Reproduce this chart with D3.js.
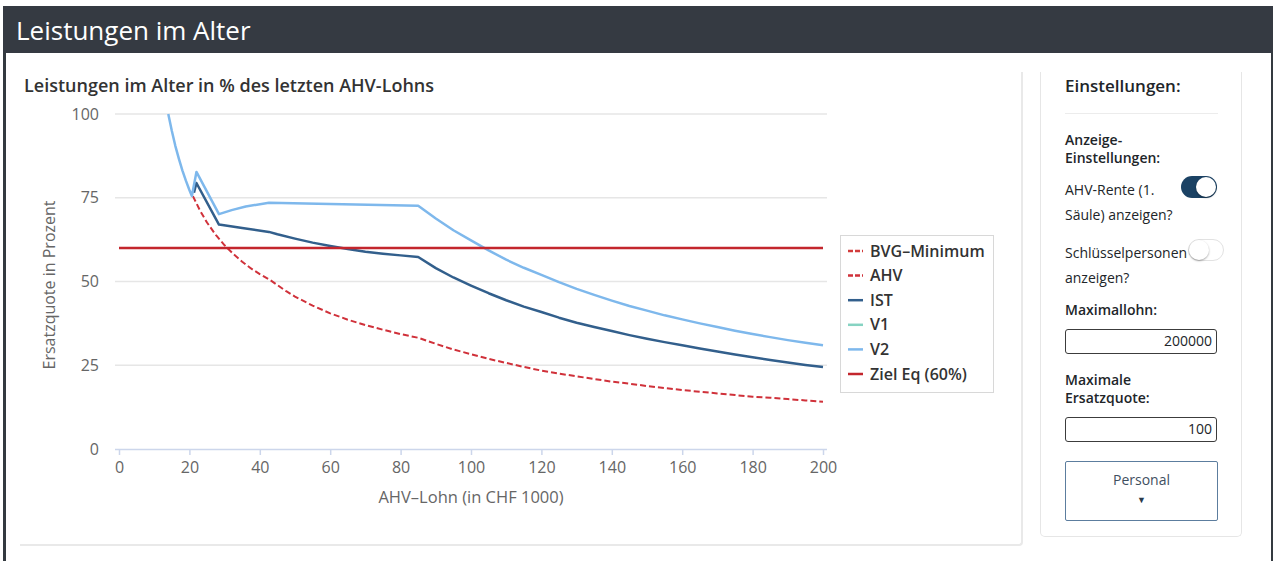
<!DOCTYPE html>
<html>
<head>
<meta charset="utf-8">
<script src="https://cdn.jsdelivr.net/npm/d3@7"></script>
<style>
  body { margin: 0; width: 1276px; height: 561px; overflow: hidden; background: #fff; font-family: "Open Sans", sans-serif; color: #212529; position: relative; }
  .frame-l { position: absolute; left: 3px; top: 6px; width: 3px; height: 555px; background: #343a40; }
  .frame-r { position: absolute; left: 1271px; top: 6px; width: 2px; height: 555px; background: #343a40; }
  .header { position: absolute; left: 3px; top: 6px; width: 1270px; height: 47px; background: #353a42; color: #fff; font-size: 26px; line-height: 49px; padding-left: 13px; box-sizing: border-box; }
  .card { position: absolute; left: 20px; top: 72px; width: 1001px; height: 472px; border-right: 2px solid #e9e9e9; border-bottom: 2px solid #e9e9e9; border-radius: 0 0 4px 0; }
  .settings { position: absolute; left: 1040px; top: 72px; width: 200px; height: 464px; border: 1px solid #e6e6e6; border-top: none; border-radius: 0 0 5px 5px; }
  .s { position: absolute; font-size: 14px; line-height: 19px; }
  .b { font-weight: 600; }
  .box { position: absolute; left: 1065px; width: 152px; height: 25px; border: 1.5px solid #3c3c3c; border-radius: 3px; box-sizing: border-box; text-align: right; font-size: 14px; line-height: 22px; padding-right: 4px; }
  .btn { position: absolute; left: 1065px; top: 461px; width: 153px; height: 60px; border: 1.5px solid #5c7d9e; border-radius: 2px; box-sizing: border-box; text-align: center; font-size: 14px; color: #3f4f5f; }
  .tog { position: absolute; width: 36px; height: 22px; border-radius: 11px; box-sizing: border-box; }
  .knob { position: absolute; top: 1px; width: 20px; height: 20px; border-radius: 10px; background: #fff; box-shadow: 0 1px 2px rgba(0,0,0,0.35); }
</style>
</head>
<body>
<div class="frame-l"></div>
<div class="frame-r"></div>
<div class="header">Leistungen im Alter</div>
<div class="card"></div>
<div class="settings"></div>
<div id="chart" style="position:absolute;left:0;top:0;"></div>

<div class="s b" style="left:1065px;top:75px;font-size:17px;line-height:22px;">Einstellungen:</div>
<div style="position:absolute;left:1065px;top:113px;width:153px;height:1px;background:#ececec;"></div>
<div class="s b" style="left:1065px;top:131px;line-height:18px;">Anzeige-<br>Einstellungen:</div>
<div class="s" style="left:1065px;top:177px;line-height:25px;">AHV-Rente (1.<br>Säule) anzeigen?</div>
<div class="tog" style="left:1181px;top:176px;background:#1b4264;"><div class="knob" style="left:15px;"></div></div>
<div class="s" style="left:1065px;top:240px;line-height:25px;">Schlüsselpersonen<br>anzeigen?</div>
<div class="tog" style="left:1188px;top:239px;background:#fff;border:1px solid #e2e2e2;"><div class="knob" style="left:0px;top:0px;"></div></div>
<div class="s b" style="left:1065px;top:300px;">Maximallohn:</div>
<div class="box" style="top:329px;">200000</div>
<div class="s b" style="left:1065px;top:371px;line-height:18px;">Maximale<br>Ersatzquote:</div>
<div class="box" style="top:417px;">100</div>
<div class="btn"><div style="margin-top:8px;line-height:20px;">Personal</div><div style="margin-top:5px;font-size:9px;line-height:10px;color:#2a3a4a;">&#9660;</div></div>

<script>
// values (x = AHV-Lohn in CHF 1000, y = Ersatzquote in %)
var xTicks = [0, 20, 40, 60, 80, 100, 120, 140, 160, 180, 200];
var yTicks = [0, 25, 50, 75, 100];

var bvgX = [];
var bvgY = [];

var ahvX = [21, 23, 25, 27.5, 30, 32.5, 35, 37.5, 40, 43, 47.5, 50, 55, 60, 65, 70, 75, 80, 85,
    90, 95, 100, 105, 110, 115, 120, 125, 130, 135, 140, 145, 150, 155, 160, 165, 170, 175, 180, 185, 190, 195, 200];
var ahvY = [75.5, 71.2, 67.6, 63.9, 60.8, 58.2, 55.9, 53.9, 52.2, 50.4, 47.1, 45.5, 42.8, 40.5, 38.6, 37, 35.6, 34.3, 33.2,
    31.4, 29.7, 28.3, 26.9, 25.7, 24.5, 23.4, 22.5, 21.7, 20.9, 20.1, 19.5, 18.8, 18.2, 17.6, 17.1, 16.6, 16.1, 15.6, 15.3, 14.9, 14.5, 14.1];

var istX = [21.3, 22, 28.4, 35, 42.6, 45, 50, 55, 60, 65, 70, 75, 80, 85,
    90, 95, 100, 105, 110, 115, 120, 125, 130, 135, 140, 145, 150, 155, 160, 165, 170, 175, 180, 185, 190, 195, 200];
var istY = [76.5, 79.4, 67, 66, 64.8, 64.1, 62.8, 61.6, 60.6, 59.7, 58.9, 58.3, 57.8, 57.3,
    54, 51.2, 48.8, 46.5, 44.4, 42.5, 40.9, 39.2, 37.7, 36.4, 35.2, 34, 32.9, 31.9, 31, 30, 29.1, 28.2, 27.4, 26.6, 25.8, 25.1, 24.5];

var v1X = [];
var v1Y = [];

var v2X = [14, 15, 16, 17, 18, 19, 20, 20.7, 22, 28.4, 32, 36, 42.6, 60, 85,
    90, 95, 100, 105, 110, 115, 120, 125, 130, 135, 140, 145, 150, 155, 160, 165, 170, 175, 180, 185, 190, 195, 200];
var v2Y = [100, 95, 90.5, 86.7, 83.2, 80.1, 77.3, 75.5, 82.7, 70.1, 71.3, 72.4, 73.5, 73.1, 72.6,
    68.8, 65.3, 62.3, 59.3, 56.5, 54.1, 52, 49.8, 47.8, 46, 44.3, 42.7, 41.3, 39.9, 38.7, 37.5, 36.4, 35.3, 34.3, 33.4, 32.5, 31.7, 31];

var zielX = [0, 200];
var zielY = [60, 60];

var seriesNames = ['BVG–Minimum', 'AHV', 'IST', 'V1', 'V2', 'Ziel Eq (60%)'];

var svg = d3.select('#chart').append('svg').attr('width', 1020).attr('height', 561)
    .style('font-family', '"Open Sans", sans-serif');

var x = d3.scaleLinear().domain([0, 200]).range([119, 823]),
    y = d3.scaleLinear().domain([0, 100]).range([449, 114]);

svg.append('text').attr('x', 24).attr('y', 92).attr('font-size', 18).attr('font-weight', 600)
    .attr('fill', '#333').text('Leistungen im Alter in % des letzten AHV-Lohns');

// gridlines
svg.append('g').selectAll('line').data(yTicks.filter(function (d) { return d > 0; })).enter().append('line')
    .attr('x1', 115).attr('x2', 827)
    .attr('y1', function (d) { return y(d); }).attr('y2', function (d) { return y(d); })
    .attr('stroke', '#e6e6e6').attr('stroke-width', 1.5);

// y axis labels
var yAxis = svg.append('g').attr('transform', 'translate(103,0)')
    .call(d3.axisLeft(y).tickValues(yTicks).tickSize(0).tickPadding(4));
yAxis.select('.domain').remove();
yAxis.selectAll('text').attr('font-size', 16).attr('fill', '#666').style('font-family', '"Open Sans", sans-serif');

// x axis
var xAxis = svg.append('g').attr('transform', 'translate(0,449)')
    .call(d3.axisBottom(x).tickValues(xTicks).tickSize(6).tickPadding(7).tickSizeOuter(0));
xAxis.select('.domain').attr('d', 'M115,0.5H827').attr('stroke', '#ccd6eb').attr('stroke-width', 1.5);
xAxis.selectAll('.tick line').attr('stroke', '#ccd6eb').attr('stroke-width', 1.5);
xAxis.selectAll('text').attr('font-size', 16).attr('fill', '#666').style('font-family', '"Open Sans", sans-serif');

svg.append('text').attr('transform', 'translate(55,285) rotate(-90)').attr('text-anchor', 'middle')
    .attr('font-size', 16).attr('fill', '#666').text('Ersatzquote in Prozent');
svg.append('text').attr('x', 471).attr('y', 503).attr('text-anchor', 'middle')
    .attr('font-size', 16.5).attr('fill', '#666').text('AHV–Lohn (in CHF 1000)');

function pts(xs, ys) {
    return xs.map(function (d, i) { return [d, ys[i]]; });
}

var line = d3.line().x(function (d) { return x(d[0]); }).y(function (d) { return y(d[1]); });

var series = [
    { name: seriesNames[0], data: pts(bvgX, bvgY), color: '#d23c3c', dash: '6,3', w: 2 },
    { name: seriesNames[1], data: pts(ahvX, ahvY), color: '#d0313a', dash: '6,3', w: 2 },
    { name: seriesNames[2], data: pts(istX, istY), color: '#325f8c', dash: null, w: 2.5 },
    { name: seriesNames[3], data: pts(v1X, v1Y), color: '#86d3c2', dash: null, w: 2.5 },
    { name: seriesNames[4], data: pts(v2X, v2Y), color: '#7eb8ec', dash: null, w: 2.5 },
    { name: seriesNames[5], data: pts(zielX, zielY), color: '#c3262d', dash: null, w: 2.5 }
];

svg.append('g').selectAll('path').data(series.filter(function (s) { return s.data.length; })).enter().append('path')
    .attr('d', function (s) { return line(s.data); })
    .attr('fill', 'none')
    .attr('stroke', function (s) { return s.color; })
    .attr('stroke-width', function (s) { return s.w; })
    .attr('stroke-dasharray', function (s) { return s.dash; })
    .attr('stroke-linejoin', 'round');

// legend
var legend = svg.append('g').attr('transform', 'translate(840,235)');
legend.append('rect').attr('x', 0.5).attr('y', 0.5).attr('width', 153).attr('height', 157)
    .attr('fill', '#fff').attr('stroke', '#d8d8d8');
var item = legend.selectAll('.item').data(series).enter().append('g').attr('class', 'item')
    .attr('transform', function (d, i) { return 'translate(0,' + (16 + i * 24.6) + ')'; });
item.append('line').attr('x1', 8).attr('x2', 23).attr('y1', 0).attr('y2', 0)
    .attr('stroke', function (d) { return d.color; }).attr('stroke-width', 2.5)
    .attr('stroke-dasharray', function (d) { return d.dash ? '5,2' : null; });
item.append('text').attr('x', 30).attr('y', 5.5).attr('font-size', 16).attr('font-weight', 600)
    .attr('fill', '#333').text(function (d) { return d.name; });
</script>
</body>
</html>
